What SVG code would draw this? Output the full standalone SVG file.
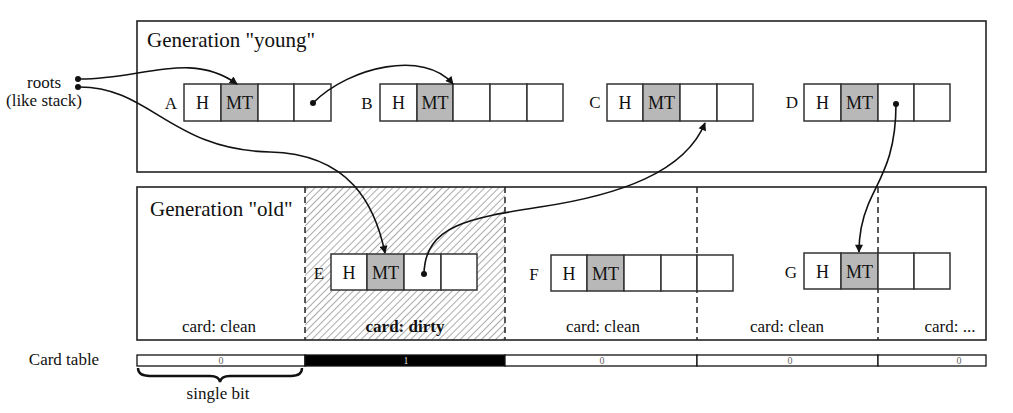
<svg xmlns="http://www.w3.org/2000/svg" width="1013" height="413" viewBox="0 0 1013 413" font-family="'Liberation Serif', 'Times New Roman', serif">
  <defs>
    <pattern id="hatch" patternUnits="userSpaceOnUse" width="5" height="5" patternTransform="rotate(45)">
      <line x1="0" y1="0" x2="0" y2="5" stroke="#444" stroke-width="0.9"/>
    </pattern>
    <marker id="arrow" viewBox="0 0 10 10" refX="9" refY="5" markerWidth="10" markerHeight="8" markerUnits="userSpaceOnUse" orient="auto">
      <path d="M0,0 L10,5 L0,10 Z" fill="#111"/>
    </marker>
  </defs>
  <style>
    text { font-family: "Liberation Serif", "Times New Roman", serif; fill: #111; }
    .gen { font-size: 21px; }
    .lbl { font-size: 17px; }
    .cell { fill: #fff; stroke: #333; stroke-width: 1.5; }
    .mt { fill: #b8b8b8; stroke: #333; stroke-width: 1.5; }
    .ctext { font-size: 18px; text-anchor: middle; }
    .card { font-size: 17px; text-anchor: middle; }
    .frame { fill: none; stroke: #222; stroke-width: 1.6; }
    .divider { stroke: #222; stroke-width: 1.5; stroke-dasharray: 6 4; }
    .bit { font-size: 10px; text-anchor: middle; fill: #666; }
    .conn { fill: none; stroke: #111; stroke-width: 1.6; }
    .dot { fill: #111; }
  </style>

  <rect width="1013" height="413" fill="#fff"/>

  <!-- young generation -->
  <g id="gen-young">
    <rect class="frame" x="137" y="21" width="849" height="151"/>
    <text class="gen" x="147" y="47">Generation "young"</text>
  </g>

  <!-- old generation with card regions -->
  <g id="gen-old">
    <rect x="305" y="187" width="200" height="153" fill="url(#hatch)"/>
    <rect class="frame" x="137" y="187" width="849" height="153"/>
    <line class="divider" x1="305" y1="187" x2="305" y2="340"/>
    <line class="divider" x1="505" y1="187" x2="505" y2="340"/>
    <line class="divider" x1="697" y1="187" x2="697" y2="340"/>
    <line class="divider" x1="878" y1="187" x2="878" y2="340"/>
    <text class="gen" x="150" y="216">Generation "old"</text>
    <text class="card" x="219" y="332">card: clean</text>
    <text class="card" x="405" y="332" font-weight="bold">card: dirty</text>
    <text class="card" x="603" y="332">card: clean</text>
    <text class="card" x="787" y="332">card: clean</text>
    <text class="card" x="950" y="332">card: ...</text>
  </g>

  <!-- roots -->
  <g id="roots">
    <text class="lbl" x="44" y="88" text-anchor="middle">roots</text>
    <text class="lbl" x="44" y="106" text-anchor="middle">(like stack)</text>
    <circle class="dot" cx="78" cy="79" r="3"/>
    <circle class="dot" cx="78" cy="87" r="3"/>
  </g>

  <!-- object A -->
  <g id="obj-A">
    <text class="lbl" x="171" y="109" text-anchor="middle">A</text>
    <rect class="cell" x="184" y="84" width="37" height="37"/>
    <rect class="mt" x="221" y="84" width="37" height="37"/>
    <rect class="cell" x="258" y="84" width="36" height="37"/>
    <rect class="cell" x="294" y="84" width="37" height="37"/>
    <text class="ctext" x="202.5" y="109">H</text>
    <text class="ctext" x="239.5" y="109">MT</text>
    <circle class="dot" cx="313" cy="103" r="3"/>
  </g>

  <!-- object B -->
  <g id="obj-B">
    <text class="lbl" x="367" y="109" text-anchor="middle">B</text>
    <rect class="cell" x="380" y="84" width="37" height="37"/>
    <rect class="mt" x="417" y="84" width="36" height="37"/>
    <rect class="cell" x="453" y="84" width="37" height="37"/>
    <rect class="cell" x="490" y="84" width="37" height="37"/>
    <rect class="cell" x="527" y="84" width="36" height="37"/>
    <text class="ctext" x="398.5" y="109">H</text>
    <text class="ctext" x="435" y="109">MT</text>
  </g>

  <!-- object C -->
  <g id="obj-C">
    <text class="lbl" x="595" y="108" text-anchor="middle">C</text>
    <rect class="cell" x="607" y="84" width="36" height="37"/>
    <rect class="mt" x="643" y="84" width="37" height="37"/>
    <rect class="cell" x="680" y="84" width="37" height="37"/>
    <rect class="cell" x="717" y="84" width="36" height="37"/>
    <text class="ctext" x="625" y="109">H</text>
    <text class="ctext" x="661.5" y="109">MT</text>
  </g>

  <!-- object D -->
  <g id="obj-D">
    <text class="lbl" x="792" y="108" text-anchor="middle">D</text>
    <rect class="cell" x="804" y="84" width="37" height="37"/>
    <rect class="mt" x="841" y="84" width="37" height="37"/>
    <rect class="cell" x="878" y="84" width="36" height="37"/>
    <rect class="cell" x="914" y="84" width="36" height="37"/>
    <text class="ctext" x="822.5" y="109">H</text>
    <text class="ctext" x="859.5" y="109">MT</text>
    <circle class="dot" cx="896" cy="104" r="3"/>
  </g>

  <!-- object E -->
  <g id="obj-E">
    <text class="lbl" x="319" y="279" text-anchor="middle">E</text>
    <rect class="cell" x="331" y="254" width="36" height="36"/>
    <rect class="mt" x="367" y="254" width="37" height="36"/>
    <rect class="cell" x="404" y="254" width="37" height="36"/>
    <rect class="cell" x="441" y="254" width="36" height="36"/>
    <text class="ctext" x="349" y="279">H</text>
    <text class="ctext" x="385.5" y="279">MT</text>
    <circle class="dot" cx="424" cy="274" r="3"/>
  </g>

  <!-- object F -->
  <g id="obj-F">
    <text class="lbl" x="534" y="280" text-anchor="middle">F</text>
    <rect class="cell" x="551" y="255" width="36" height="36"/>
    <rect class="mt" x="587" y="255" width="37" height="36"/>
    <rect class="cell" x="624" y="255" width="37" height="36"/>
    <rect class="cell" x="661" y="255" width="36" height="36"/>
    <rect class="cell" x="697" y="255" width="36" height="36"/>
    <text class="ctext" x="569" y="280">H</text>
    <text class="ctext" x="605.5" y="280">MT</text>
  </g>

  <!-- object G -->
  <g id="obj-G">
    <text class="lbl" x="791" y="278" text-anchor="middle">G</text>
    <rect class="cell" x="804" y="253" width="37" height="36"/>
    <rect class="mt" x="841" y="253" width="37" height="36"/>
    <rect class="cell" x="878" y="253" width="36" height="36"/>
    <rect class="cell" x="914" y="253" width="36" height="36"/>
    <text class="ctext" x="822.5" y="278">H</text>
    <text class="ctext" x="859.5" y="278">MT</text>
  </g>

  <!-- card table -->
  <g id="card-table">
    <text class="lbl" x="64" y="365" text-anchor="middle">Card table</text>
    <rect x="137" y="355" width="168" height="11" fill="#fff" stroke="#111" stroke-width="1.3"/>
    <rect x="305" y="355" width="200" height="11" fill="#000" stroke="#111" stroke-width="1.3"/>
    <rect x="505" y="355" width="192" height="11" fill="#fff" stroke="#111" stroke-width="1.3"/>
    <rect x="697" y="355" width="181" height="11" fill="#fff" stroke="#111" stroke-width="1.3"/>
    <rect x="878" y="355" width="108" height="11" fill="#fff" stroke="#111" stroke-width="1.3"/>
    <text class="bit" x="221" y="364">0</text>
    <text class="bit" x="406" y="364" style="fill:#ddd">1</text>
    <text class="bit" x="602" y="364">0</text>
    <text class="bit" x="790" y="364">0</text>
    <text class="bit" x="959" y="364">0</text>
    <path d="M138,368 Q138,376 150,376 L210,376 Q219,376 220,382 Q221,376 230,376 L291,376 Q302,376 302,368" fill="none" stroke="#111" stroke-width="2.4"/>
    <text class="lbl" x="218" y="399" text-anchor="middle">single bit</text>
  </g>

  <!-- references between objects -->
  <g id="connectors">
    <path class="conn" marker-end="url(#arrow)" d="M78,79 C140,80 190,50 237,84"/>
    <path class="conn" marker-end="url(#arrow)" d="M78,87 C150,86 170,150 270,152 C350,154 375,205 385,253"/>
    <path class="conn" marker-end="url(#arrow)" d="M313,103 C350,66 425,50 453,84"/>
    <path class="conn" marker-end="url(#arrow)" d="M424,274 C425,225 470,218 540,207 C620,195 685,172 705,123"/>
    <path class="conn" marker-end="url(#arrow)" d="M896,104 C896,160 878,180 868,205 C861,222 859,237 859,252"/>
  </g>
</svg>
